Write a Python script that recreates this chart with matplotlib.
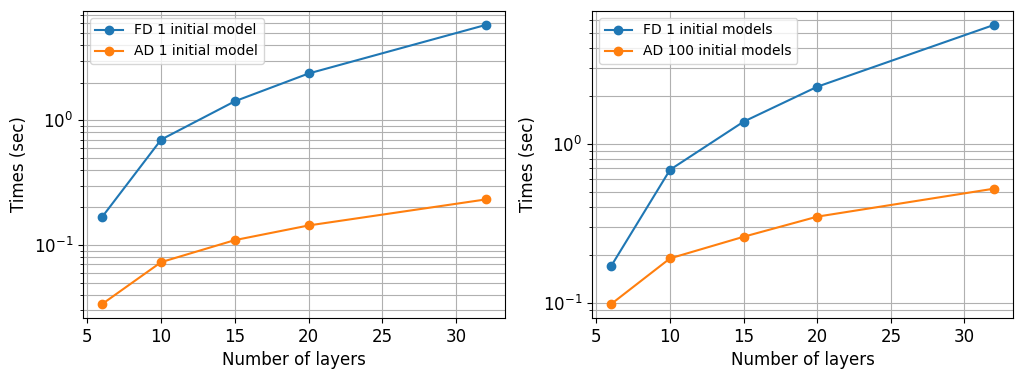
import numpy as np
import matplotlib.pyplot as plt

layers = [6, 10, 15, 20, 32]

fd_left = [0.168, 0.70, 1.42, 2.37, 5.8]
ad_left = [0.0337, 0.073, 0.1096, 0.1436, 0.232]

fd_right = [0.170, 0.687, 1.38, 2.29, 5.61]
ad_right = [0.098, 0.19, 0.26, 0.348, 0.522]

fig = plt.figure(figsize=(10.22, 3.79), dpi=100)

ax1 = fig.add_axes([0.0812, 0.161, 0.4128, 0.81])
ax1.plot(layers, fd_left, 'o-', label='FD 1 initial model')
ax1.plot(layers, ad_left, 'o-', label='AD 1 initial model')
ax1.set_yscale('log')
ax1.grid(True, which='both')
ax1.set_xlabel('Number of layers', fontsize=12)
ax1.set_ylabel('Times (sec)', fontsize=12)
ax1.tick_params(labelsize=12)
ax1.legend(loc='upper left')

ax2 = fig.add_axes([0.5793, 0.161, 0.4119, 0.81])
ax2.plot(layers, fd_right, 'o-', label='FD 1 initial models')
ax2.plot(layers, ad_right, 'o-', label='AD 100 initial models')
ax2.set_yscale('log')
ax2.grid(True, which='both')
ax2.set_xlabel('Number of layers', fontsize=12)
ax2.set_ylabel('Times (sec)', fontsize=12)
ax2.tick_params(labelsize=12)
ax2.legend(loc='upper left')

fig.savefig('out.png')
